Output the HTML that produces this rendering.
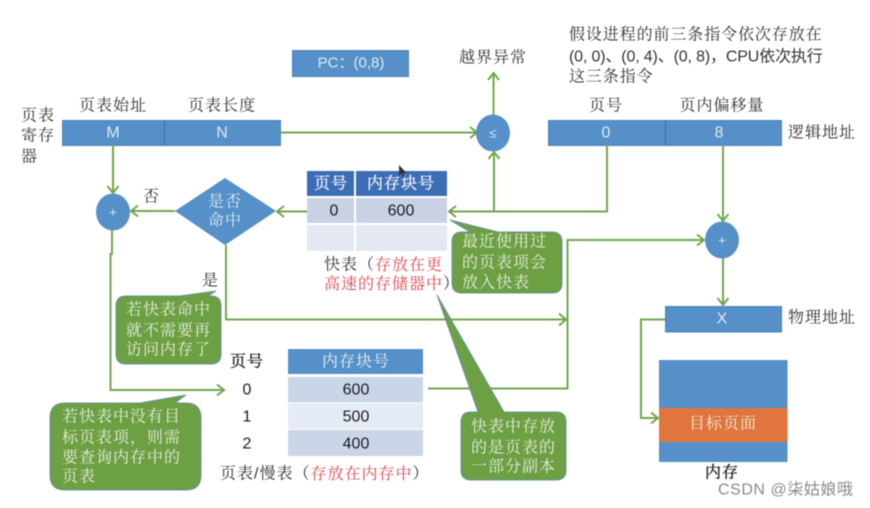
<!DOCTYPE html>
<html lang="zh">
<head>
<meta charset="utf-8">
<style>
html,body{margin:0;padding:0;background:#fff;width:870px;height:508px;overflow:hidden}
svg{display:block;filter:blur(.4px)}
text{font-family:"Liberation Sans","Noto Serif CJK SC",serif;font-size:16px;fill:#333;dominant-baseline:central}
.m{text-anchor:middle}
.w{fill:#dfe9f3}
.c{fill:#e6efdc}
.r{fill:#e0464e}
.s{font-family:"Liberation Sans","Noto Sans CJK SC",sans-serif}
.k{fill:#1c1c1c}
.l{stroke:#70a84c;stroke-width:2;fill:none}
.a{stroke:#70a84c;stroke-width:2;fill:none;stroke-linejoin:miter}
.b{fill:#5590c8;stroke:#4c82b6;stroke-width:1}
.g{fill:#6d9f43;stroke:#6a93a0;stroke-width:1}
.h{stroke:#1c1c1c;stroke-width:.35}
.t{fill:#eef2f8;stroke:#eef2f8;stroke-width:.35}
</style>
</head>
<body>
<svg width="870" height="508" viewBox="0 0 870 508" xmlns="http://www.w3.org/2000/svg">
<rect x="292.500" y="50.500" width="116" height="26" class="b"/>
<text x="351" y="63" class="m s w" style="font-size:15px">PC：(0,8)</text>

<text x="113" y="106" class="m" letter-spacing="1">页表始址</text>
<text x="222" y="106" class="m" letter-spacing="1">页表长度</text>
<text x="21" y="116" letter-spacing="1">页表</text>
<text x="21" y="136" letter-spacing="1">寄存</text>
<text x="21" y="157">器</text>
<rect x="62.500" y="120.500" width="218" height="25" class="b"/>
<line x1="164.500" y1="120" x2="164.500" y2="145" stroke="#3f6f9e"/>
<text x="113" y="133" class="m s w">M</text>
<text x="222" y="133" class="m s w">N</text>

<path d="M280 132.500H476" class="l"/>
<path d="M470 127l7 5.500-7 5.500" class="a"/>
<ellipse cx="493" cy="133" rx="17" ry="18.500" fill="#5590c8"/>
<text x="493" y="133" class="m s w" style="font-size:13px">≤</text>
<path d="M493.500 115V74" class="l"/>
<path d="M488 80l5.500-7 5.500 7" class="a"/>
<text x="493" y="58" class="m" letter-spacing="1">越界异常</text>

<text x="569" y="35" letter-spacing=".9">假设进程的前三条指令依次存放在</text>
<text x="569" y="57" class="s" letter-spacing="-.15">(0, 0)、(0, 4)、(0, 8)，CPU依次执行</text>
<text x="569" y="77" letter-spacing=".9">这三条指令</text>

<text x="606" y="106" class="m" letter-spacing="1">页号</text>
<text x="722" y="106" class="m" letter-spacing="1">页内偏移量</text>
<rect x="548.500" y="120.500" width="233" height="25" class="b"/>
<line x1="665.500" y1="120" x2="665.500" y2="145" stroke="#3f6f9e"/>
<text x="606" y="133" class="m s w">0</text>
<text x="719" y="133" class="m s w">8</text>
<text x="788" y="133" letter-spacing="1">逻辑地址</text>

<path d="M607 145V211.500H450" class="l"/>
<path d="M456 206l-7 5.500 7 5.500" class="a"/>
<path d="M494 211V153" class="l"/>
<path d="M488.500 159l5.500-7 5.500 7" class="a"/>

<path d="M723 145V221" class="l"/>
<path d="M717.500 214l5.500 7 5.500-7" class="a"/>
<ellipse cx="722" cy="240" rx="17" ry="18.500" fill="#5590c8"/>
<text x="722" y="240" class="m s w" style="font-size:13px">+</text>
<path d="M723 258V305" class="l"/>
<path d="M717.500 298l5.500 7 5.500-7" class="a"/>
<rect x="665.500" y="306.500" width="116" height="25.500" class="b"/>
<text x="722" y="319" class="m s w">X</text>
<text x="788" y="318" letter-spacing="1">物理地址</text>

<path d="M665 319.500H641V418H658" class="l"/>
<path d="M651 412.500l7 5.500-7 5.500" class="a"/>
<rect x="659" y="360" width="128.500" height="102" fill="#5590c8"/>
<rect x="659" y="408" width="128.500" height="34" fill="#e2743e"/>
<text x="723" y="424" class="m c" letter-spacing="1">目标页面</text>
<text x="722" y="473" class="m k h" letter-spacing="1">内存</text>
<text x="718" y="490" class="s" letter-spacing=".55" style="fill:#8a8a8a;font-size:16px">CSDN @柒姑娘哦</text>

<path d="M113 145V192" class="l"/>
<path d="M107.500 186l5.500 7 5.500-7" class="a"/>
<ellipse cx="113" cy="212" rx="17" ry="18.500" fill="#5590c8"/>
<text x="113" y="212" class="m s w" style="font-size:13px">+</text>
<text x="151" y="197" class="m">否</text>
<path d="M175 211H132" class="l"/>
<path d="M138 205.500l-7 5.500 7 5.500" class="a"/>
<polygon points="175,211 225,178 276,211 225,245" fill="#5590c8"/>
<text x="225" y="202" class="m w" letter-spacing="1">是否</text>
<text x="225" y="221" class="m w" letter-spacing="1">命中</text>
<path d="M307 211.500H278" class="l"/>
<path d="M284 206l-7 5.500 7 5.500" class="a"/>

<rect x="307" y="171" width="47" height="25" fill="#3d6db5"/>
<rect x="356" y="171" width="91" height="25" fill="#3d6db5"/>
<rect x="307" y="198" width="47" height="25" fill="#c9d2e5"/>
<rect x="356" y="198" width="91" height="25" fill="#c9d2e5"/>
<rect x="307" y="225" width="47" height="26" fill="#e4e8f3"/>
<rect x="356" y="225" width="91" height="26" fill="#e4e8f3"/>
<text x="331" y="184" class="m t" letter-spacing="1">页号</text>
<text x="401" y="184" class="m t" letter-spacing="1">内存块号</text>
<text x="334" y="211" class="m s k">0</text>
<text x="401" y="211" class="m s k">600</text>
<text x="324" y="265" letter-spacing="1">快表（<tspan class="r">存放在更</tspan></text>
<text x="324" y="284" letter-spacing="1"><tspan class="r">高速的存储器中</tspan>）</text>

<path d="M226 245V319.500H565" class="l"/>
<path d="M559 313.500l7 6-7 6" class="a"/>
<path d="M428 388.500H567.500V240H704" class="l"/>
<path d="M697 234.500l7 5.500-7 5.500" class="a"/>

<path d="M450 220L498 232H552Q562 232 562 242V283Q562 293 552 293H462Q452 293 452 283V242Q452 232 462 232H470Z" class="g"/>
<text x="462" y="242" class="c" letter-spacing="1">最近使用过</text>
<text x="462" y="263" class="c" letter-spacing="1">的页表项会</text>
<text x="462" y="283" class="c" letter-spacing="1">放入快表</text>

<text x="210" y="281" class="m">是</text>
<path d="M216 291L208 296H211Q221 296 221 306V354Q221 364 211 364H126Q116 364 116 354V306Q116 296 126 296H180Z" class="g"/>
<text x="126" y="310" class="c" letter-spacing="1">若快表命中</text>
<text x="126" y="331" class="c" letter-spacing="1">就不需要再</text>
<text x="126" y="350" class="c" letter-spacing="1">访问内存了</text>

<path d="M112 230V254H110.500V390H224" class="l"/>
<path d="M217 384.500l7 5.500-7 5.500" class="a"/>
<text x="247" y="362" class="m k h" letter-spacing="1">页号</text>
<rect x="288" y="349" width="135" height="25" fill="#5590c8"/>
<rect x="288" y="377" width="135" height="25.500" fill="#cad6e8"/>
<rect x="288" y="403.500" width="135" height="25.500" fill="#e5ebf4"/>
<rect x="288" y="430" width="135" height="26" fill="#cad6e8"/>
<text x="356" y="362" class="m" style="fill:#eef2f8" letter-spacing="1">内存块号</text>
<text x="247" y="390" class="m s k">0</text>
<text x="247" y="417" class="m s k">1</text>
<text x="247" y="444" class="m s k">2</text>
<text x="356" y="390" class="m s k">600</text>
<text x="356" y="417" class="m s k">500</text>
<text x="356" y="444" class="m s k">400</text>
<text x="220" y="474" letter-spacing="1">页表/慢表（<tspan class="r">存放在内存中</tspan>）</text>

<path d="M186 395L175 403H186Q201 403 201 418V475Q201 490 186 490H65Q50 490 50 475V418Q50 403 65 403H140Z" class="g"/>
<text x="62" y="417" class="c" letter-spacing="1">若快表中没有目</text>
<text x="62" y="438" class="c" letter-spacing="1">标页表项，则需</text>
<text x="62" y="458" class="c" letter-spacing="1">要查询内存中的</text>
<text x="62" y="477" class="c" letter-spacing="1">页表</text>

<path d="M437 295L504 412H556Q566 412 566 422V470Q566 480 556 480H471Q461 480 461 470V422Q461 412 471 412H478Z" class="g"/>
<text x="471" y="427" class="c" letter-spacing="1">快表中存放</text>
<text x="471" y="448" class="c" letter-spacing="1">的是页表的</text>
<text x="471" y="467" class="c" letter-spacing="1">一部分副本</text>

<path d="M399 165v11l2.500-2.500 2 4 1.500-.8-2-3.800h3.500z" fill="#333"/>
</svg>
</body>
</html>
